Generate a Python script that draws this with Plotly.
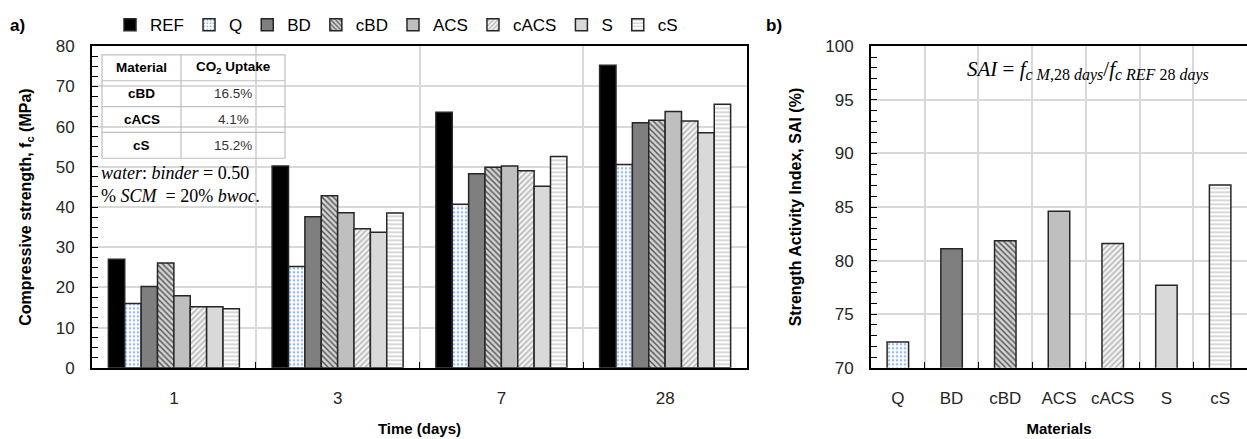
import plotly.graph_objects as go

# ---------------- data ----------------
days = ["1", "3", "7", "28"]
series_names = ["REF", "Q", "BD", "cBD", "ACS", "cACS", "S", "cS"]
strength = {
    "REF":  [27.0, 50.2, 63.6, 75.3],
    "Q":    [16.0, 25.2, 40.7, 50.6],
    "BD":   [20.2, 37.6, 48.3, 61.0],
    "cBD":  [26.1, 42.8, 49.9, 61.6],
    "ACS":  [17.9, 38.6, 50.2, 63.8],
    "cACS": [15.2, 34.6, 49.0, 61.4],
    "S":    [15.2, 33.7, 45.2, 58.5],
    "cS":   [14.7, 38.5, 52.6, 65.6],
}
sai_materials = ["Q", "BD", "cBD", "ACS", "cACS", "S", "cS"]
sai_values = [72.4, 81.1, 81.85, 84.6, 81.6, 77.7, 87.05]

table_header = ["Material", "CO<sub>2</sub> Uptake"]
table_materials = ["cBD", "cACS", "cS"]
table_uptake = ["16.5%", "4.1%", "15.2%"]

# ---------------- styles ----------------
styles = {
    "REF":  dict(color="#000000", shape="", fg="#000000", bg="#000000"),
    "Q":    dict(color="#ffffff", shape=".", fg="#9dbde6", bg="#ffffff"),
    "BD":   dict(color="#7f7f7f", shape="", fg="#7f7f7f", bg="#7f7f7f"),
    "cBD":  dict(color="#c8c8c8", shape="\\", fg="#505050", bg="#d4d4d4"),
    "ACS":  dict(color="#bfbfbf", shape="", fg="#bfbfbf", bg="#bfbfbf"),
    "cACS": dict(color="#f0f0f0", shape="/", fg="#b0b0b0", bg="#f2f2f2"),
    "S":    dict(color="#d9d9d9", shape="", fg="#d9d9d9", bg="#d9d9d9"),
    "cS":   dict(color="#ffffff", shape="-", fg="#c8c8c8", bg="#ffffff"),
}

W, H = 1247, 439
def px_x(p): return p / W
def px_y(p): return (H - p) / H

FONT = "Liberation Sans, Arial, sans-serif"
SERIF = "Liberation Serif, DejaVu Serif, serif"
EDGE = "#262626"

def make_marker(name):
    st = styles[name]
    marker = dict(color=st["color"], line=dict(color=EDGE, width=1.5))
    if st["shape"]:
        marker["pattern"] = dict(shape=st["shape"], fgcolor=st["fg"], bgcolor=st["bg"],
                                 size=4, solidity=0.35, fillmode="replace")
    return marker

fig = go.Figure()

for name in series_names:
    fig.add_trace(go.Bar(x=days, y=strength[name], name=name, marker=make_marker(name),
                         xaxis="x", yaxis="y"))

# SAI panel: one trace per material, sharing an offset group
for m, v in zip(sai_materials, sai_values):
    fig.add_trace(go.Bar(x=[m], y=[v], showlegend=False, xaxis="x2", yaxis="y2",
                         offsetgroup="sai", width=0.4, marker=make_marker(m)))

grid = "#d9d9d9"
tickfont = dict(family=FONT, size=17, color="#262626")
titlefont = dict(family=FONT, size=16, color="#000000")

fig.update_layout(
    width=W, height=H,
    margin=dict(l=0, r=0, t=0, b=0),
    paper_bgcolor="white", plot_bgcolor="white",
    barmode="group", bargap=0.2, bargroupgap=0,
    showlegend=True,
    legend=dict(orientation="h", x=px_x(110), y=px_y(17), xanchor="left", yanchor="middle",
                font=dict(family=FONT, size=17, color="#000000"),
                itemwidth=30, tracegroupgap=0, bgcolor="rgba(0,0,0,0)"),
    xaxis=dict(domain=[px_x(92), px_x(747)], type="category",
               showline=True, linecolor="#000000", linewidth=2, mirror=True,
               showgrid=True, gridcolor=grid, gridwidth=1.5, tickson="boundaries",
               ticks="inside", ticklen=6, tickcolor="#000000",
               tickfont=tickfont, ticklabelstandoff=14,
               title=dict(text="<b>Time (days)</b>", font=dict(family=FONT, size=15, color="#000"), standoff=16)),
    yaxis=dict(domain=[px_y(375), px_y(39)], range=[0, 80], dtick=10,
               showline=True, linecolor="#000000", linewidth=2, mirror=True,
               showgrid=True, gridcolor=grid, gridwidth=1.5,
               ticks="inside", ticklen=6, tickcolor="#000000",
               minor=dict(dtick=2.5, ticks="inside", ticklen=6, tickcolor="#000000", showgrid=False),
               tickfont=tickfont, zeroline=False, ticklabelstandoff=12,
               title=dict(text="<b>Compressive strength, f<sub>c</sub> (MPa)</b>", font=titlefont, standoff=20)),
    xaxis2=dict(domain=[px_x(871), 1.0], type="category", anchor="y2",
                showline=True, linecolor="#000000", linewidth=2, mirror=True,
                showgrid=True, gridcolor=grid, gridwidth=1.5, tickson="boundaries",
                ticks="inside", ticklen=6, tickcolor="#000000",
                tickfont=tickfont, ticklabelstandoff=14,
                title=dict(text="<b>Materials</b>", font=dict(family=FONT, size=15, color="#000"), standoff=16)),
    yaxis2=dict(domain=[px_y(375), px_y(39)], range=[70, 100], dtick=5, anchor="x2",
                showline=True, linecolor="#000000", linewidth=2, mirror=False,
                showgrid=True, gridcolor=grid, gridwidth=1.5,
                ticks="inside", ticklen=6, tickcolor="#000000",
                minor=dict(dtick=1, ticks="inside", ticklen=6, tickcolor="#000000", showgrid=False),
                tickfont=tickfont, zeroline=False, ticklabelstandoff=12,
                title=dict(text="<b>Strength Activity Index, SAI (%)</b>", font=titlefont, standoff=20)),
)

# white boxes behind the inset table / notes (cover gridlines only)
fig.add_shape(type="rect", xref="paper", yref="paper", layer="between",
              x0=px_x(94), x1=px_x(293), y0=px_y(206), y1=px_y(41),
              fillcolor="white", line=dict(width=0))
fig.add_shape(type="rect", xref="paper", yref="paper", layer="between",
              x0=px_x(935), x1=1.0, y0=px_y(82), y1=px_y(41),
              fillcolor="white", line=dict(width=0))

# ---- inset table drawn with lines + text ----
tx0, tx1, tcol = 102, 285, 181
row_edges = [48, 75, 102, 129, 156]
tline = dict(color="#bfbfbf", width=1.2)
fig.add_shape(type="rect", xref="paper", yref="paper", layer="above",
              x0=px_x(tx0), x1=px_x(tx1), y0=px_y(row_edges[-1]), y1=px_y(row_edges[0]),
              line=tline, fillcolor="rgba(0,0,0,0)")
fig.add_shape(type="line", xref="paper", yref="paper", layer="above",
              x0=px_x(tcol), x1=px_x(tcol), y0=px_y(row_edges[-1]), y1=px_y(row_edges[0]), line=tline)
for ry in row_edges[1:-1]:
    fig.add_shape(type="line", xref="paper", yref="paper", layer="above",
                  x0=px_x(tx0), x1=px_x(tx1), y0=px_y(ry), y1=px_y(ry), line=tline)
col_centers = [(tx0 + tcol) / 2, (tcol + tx1) / 2]
rows = [[f"<b>{h}</b>" for h in table_header]] + \
       [[f"<b>{m}</b>", u] for m, u in zip(table_materials, table_uptake)]
for ri, row in enumerate(rows):
    yc = (row_edges[ri] + row_edges[ri + 1]) / 2
    for ci, txt in enumerate(row):
        fig.add_annotation(xref="paper", yref="paper", x=px_x(col_centers[ci]), y=px_y(yc),
                           xanchor="center", yanchor="middle", text=txt, showarrow=False,
                           font=dict(family=FONT, size=13.5, color="#000" if ci == 0 or ri == 0 else "#333"))

# notes
fig.add_annotation(xref="paper", yref="paper", x=px_x(99), y=px_y(171), xanchor="left", yanchor="middle",
                   text="<i>water</i>: <i>binder</i> = 0.50", showarrow=False,
                   font=dict(family=SERIF, size=18, color="#000"))
fig.add_annotation(xref="paper", yref="paper", x=px_x(99), y=px_y(195), xanchor="left", yanchor="middle",
                   text="% <i>SCM</i>  = 20% <i>bwoc.</i>", showarrow=False,
                   font=dict(family=SERIF, size=18, color="#000"))
sub = '<span style="font-size:16px">'
fig.add_annotation(xref="paper", yref="paper", x=px_x(1088), y=px_y(64), xanchor="center", yanchor="middle",
                   text=("<i>SAI</i> = <i>f</i><sub>" + sub + "<i>c M</i>,28 <i>days</i></span></sub>"
                         "/<i>f</i><sub>" + sub + "<i>c REF</i> 28 <i>days</i></span></sub>"),
                   showarrow=False, font=dict(family=SERIF, size=21, color="#000"))

# panel labels
fig.add_annotation(xref="paper", yref="paper", x=px_x(8), y=px_y(17), xanchor="left", yanchor="middle",
                   text="<b>a)</b>", showarrow=False, font=dict(family=FONT, size=17, color="#000"))
fig.add_annotation(xref="paper", yref="paper", x=px_x(764), y=px_y(17), xanchor="left", yanchor="middle",
                   text="<b>b)</b>", showarrow=False, font=dict(family=FONT, size=17, color="#000"))

fig.write_html("out.html")
